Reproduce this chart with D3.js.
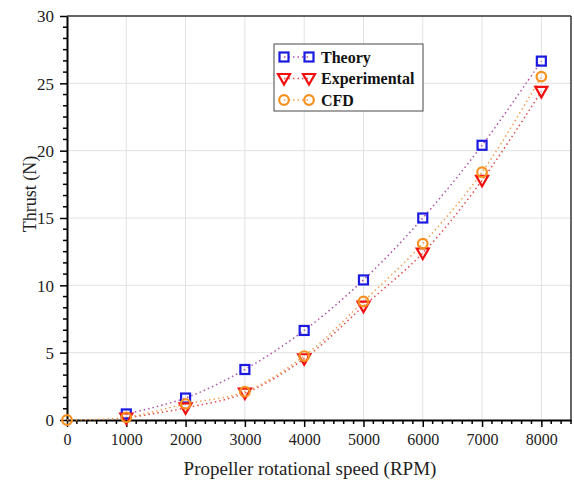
<!DOCTYPE html>
<html><head><meta charset="utf-8">
<script src="https://cdn.jsdelivr.net/npm/d3@7"></script>
<style>html,body{margin:0;padding:0;background:#fff;}svg{display:block;}</style>
</head><body>
<script>
const rpm = [0, 1000, 2000, 3000, 4000, 5000, 6000, 7000, 8000];
const theory = [null, 0.45, 1.63, 3.75, 6.65, 10.4, 15.0, 20.4, 26.65];
const experimental = [null, 0.15, 0.9, 2.0, 4.55, 8.45, 12.4, 17.8, 24.4];
const cfd = [0, 0.2, 1.2, 2.1, 4.75, 8.8, 13.1, 18.4, 25.5];
const xTicks = [0, 1000, 2000, 3000, 4000, 5000, 6000, 7000, 8000];
const yTicks = [0, 5, 10, 15, 20, 25, 30];
const seriesNames = ["Theory", "Experimental", "CFD"];

const W = 574, H = 484;
const m = {l: 67, t: 16, r: 571, b: 420};
const svg = d3.select("body").append("svg").attr("width", W).attr("height", H);
const x = d3.scaleLinear().domain([0, 8500]).range([m.l, m.r]);
const y = d3.scaleLinear().domain([0, 30]).range([m.b, m.t]);
const font = "'Liberation Serif', 'Times New Roman', serif";

// grid
svg.append("g").selectAll("line").data(xTicks.slice(1)).join("line")
  .attr("x1", d => x(d)).attr("x2", d => x(d)).attr("y1", m.t).attr("y2", m.b)
  .attr("stroke", "#e2e2e2").attr("stroke-width", 1);
svg.append("g").selectAll("line").data(yTicks.slice(1, -1)).join("line")
  .attr("y1", d => y(d)).attr("y2", d => y(d)).attr("x1", m.l).attr("x2", m.r)
  .attr("stroke", "#e2e2e2").attr("stroke-width", 1);

// frame top/right
svg.append("line").attr("x1", m.l).attr("x2", m.r).attr("y1", m.t).attr("y2", m.t).attr("stroke", "#333").attr("stroke-width", 1.5);
svg.append("line").attr("x1", m.r).attr("x2", m.r).attr("y1", m.t).attr("y2", m.b).attr("stroke", "#333").attr("stroke-width", 1.5);

// minor ticks
const xMinor = d3.range(0, 8501, 1000 / 6).filter(v => Math.abs(v / 1000 - Math.round(v / 1000)) > 1e-6);
const yMinor = d3.range(0, 30.001, 5 / 6).filter(v => Math.abs(v / 5 - Math.round(v / 5)) > 1e-6);

const xAxis = svg.append("g").attr("transform", `translate(0,${m.b})`)
  .call(d3.axisBottom(x).tickValues(xTicks).tickFormat(d3.format("d")).tickSize(7).tickSizeOuter(0).tickPadding(7));
xAxis.append("g").selectAll("line").data(xMinor).join("line")
  .attr("x1", d => x(d)).attr("x2", d => x(d)).attr("y1", 0).attr("y2", 4).attr("stroke", "#000").attr("stroke-width", 1.5);
const yAxis = svg.append("g").attr("transform", `translate(${m.l},0)`)
  .call(d3.axisLeft(y).tickValues(yTicks).tickSize(7).tickSizeOuter(0).tickPadding(6));
yAxis.append("g").selectAll("line").data(yMinor).join("line")
  .attr("y1", d => y(d)).attr("y2", d => y(d)).attr("x1", 0).attr("x2", -4).attr("stroke", "#000").attr("stroke-width", 1.5);
[xAxis, yAxis].forEach(g => {
  g.select(".domain").attr("stroke", "#000").attr("stroke-width", 2);
  g.selectAll(".tick line").attr("stroke", "#000").attr("stroke-width", 1.5);
  g.selectAll("text").attr("font-family", font).attr("fill", "#222");
});
xAxis.selectAll(".tick text").attr("font-size", 16);
yAxis.selectAll(".tick text").attr("font-size", 17).attr("dy", "0.35em");

// titles
svg.append("text").attr("x", 310).attr("y", 475).attr("text-anchor", "middle")
  .attr("font-family", font).attr("font-size", 19).attr("fill", "#222").text("Propeller rotational speed (RPM)");
svg.append("text").attr("transform", "translate(36,194) rotate(-90)").attr("text-anchor", "middle")
  .attr("font-family", font).attr("font-size", 18).attr("fill", "#222").text("Thrust (N)");

// series
const series = [
  {name: seriesNames[0], vals: theory, color: "#1a1ae0", line: "#b050a8", shape: "square"},
  {name: seriesNames[1], vals: experimental, color: "#f01010", line: "#e05050", shape: "tri"},
  {name: seriesNames[2], vals: cfd, color: "#f7901e", line: "#f0a050", shape: "circle"}
];
const lineGen = d3.line().x(d => x(d[0])).y(d => y(d[1])).curve(d3.curveCatmullRom);

function marker(g, shape, cx, cy, color) {
  if (shape === "square") {
    g.append("rect").attr("x", cx - 4.5).attr("y", cy - 4.5).attr("width", 9).attr("height", 9)
      .attr("fill", "none").attr("stroke", color).attr("stroke-width", 2.2);
  } else if (shape === "tri") {
    g.append("path").attr("d", `M${cx - 6},${cy - 4.5}L${cx + 6},${cy - 4.5}L${cx},${cy + 6}Z`)
      .attr("fill", "none").attr("stroke", color).attr("stroke-width", 2.2).attr("stroke-linejoin", "miter");
  } else {
    g.append("circle").attr("cx", cx).attr("cy", cy).attr("r", 4.8)
      .attr("fill", "none").attr("stroke", color).attr("stroke-width", 2.2);
  }
}

series.forEach(s => {
  const pts = rpm.map((r, i) => [r, s.vals[i]]).filter(p => p[1] != null);
  svg.append("path").datum(pts).attr("d", lineGen).attr("fill", "none")
    .attr("stroke", s.line).attr("stroke-width", 1.5).attr("stroke-dasharray", "1.5,3");
});
series.forEach(s => {
  const g = svg.append("g");
  rpm.forEach((r, i) => { if (s.vals[i] != null) marker(g, s.shape, x(r), y(s.vals[i]), s.color); });
});

// legend
const lg = svg.append("g");
lg.append("rect").attr("x", 274).attr("y", 44).attr("width", 149).attr("height", 67)
  .attr("fill", "#fff").attr("stroke", "#666").attr("stroke-width", 1.2);
series.forEach((s, i) => {
  const cy = 57 + i * 21.5;
  lg.append("line").attr("x1", 284).attr("x2", 309).attr("y1", cy).attr("y2", cy)
    .attr("stroke", s.line).attr("stroke-width", 1.5).attr("stroke-dasharray", "1.5,3");
  marker(lg, s.shape, 284, cy, s.color);
  marker(lg, s.shape, 309, cy, s.color);
  lg.append("text").attr("x", 321).attr("y", cy).attr("dy", "0.35em")
    .attr("font-family", font).attr("font-weight", "bold").attr("font-size", 16).attr("fill", "#111").text(s.name);
});
</script>
</body></html>
